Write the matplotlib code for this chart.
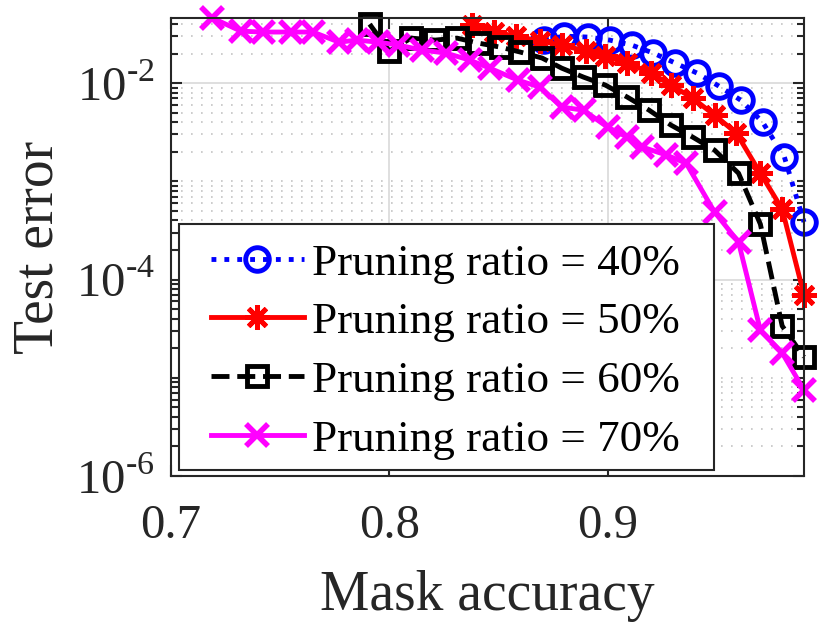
import matplotlib
matplotlib.use("Agg")
import matplotlib.pyplot as plt
from matplotlib.ticker import LogLocator, FixedLocator, NullFormatter
from matplotlib.patches import Rectangle

plt.rcParams['font.family'] = ['Liberation Serif', 'DejaVu Serif']
plt.rcParams['mathtext.fontset'] = 'custom'
plt.rcParams['mathtext.rm'] = 'Liberation Serif'

# mask accuracy (x) and test error (y)
acc_40 = [0.871, 0.880, 0.891, 0.901, 0.911, 0.921, 0.931, 0.941, 0.951, 0.961, 0.971, 0.981, 0.990]
err_40 = [0.0274, 0.0301, 0.0294, 0.0274, 0.0244, 0.0202, 0.0160, 0.01265, 0.00932, 0.00671,
          0.00401, 0.00177, 0.000385]

acc_50 = [0.838, 0.848, 0.858, 0.869, 0.879, 0.890, 0.899, 0.909, 0.920, 0.929, 0.939, 0.949,
          0.959, 0.970, 0.980, 0.990]
err_50 = [0.0389, 0.0330, 0.0301, 0.0268, 0.0244, 0.0212, 0.0188, 0.0160, 0.01265, 0.00954,
          0.00703, 0.00472, 0.00310, 0.00121, 0.000522, 6.95e-5]

acc_60 = [0.791, 0.800, 0.810, 0.821, 0.831, 0.841, 0.851, 0.860, 0.870, 0.879, 0.889, 0.899,
          0.909, 0.919, 0.929, 0.939, 0.949, 0.960, 0.970, 0.980, 0.990]
err_60 = [0.0398, 0.0212, 0.0287, 0.0274, 0.0287, 0.0255, 0.0232, 0.0207, 0.0180, 0.0142,
          0.0115, 0.00954, 0.00721, 0.00531, 0.00374, 0.00282, 0.00208, 0.00121, 0.000367,
          3.37e-5, 1.63e-5]

acc_70 = [0.719, 0.732, 0.742, 0.755, 0.765, 0.777, 0.785, 0.795, 0.804, 0.815, 0.826, 0.837,
          0.846, 0.859, 0.869, 0.879, 0.889, 0.900, 0.909, 0.916, 0.927, 0.936, 0.949, 0.960,
          0.970, 0.980, 0.990]
err_70 = [0.046, 0.0338, 0.0331, 0.0331, 0.0331, 0.0261, 0.0274, 0.0261, 0.0244, 0.0217,
          0.0202, 0.0171, 0.0142, 0.0107, 0.0091, 0.0057, 0.0053, 0.00356, 0.00282, 0.00223,
          0.00185, 0.00153, 4.87e-4, 2.41e-4, 3.06e-5, 1.79e-5, 7.5e-6]

labels = ["Pruning ratio = 40%", "Pruning ratio = 50%",
          "Pruning ratio = 60%", "Pruning ratio = 70%"]

W, H = 830, 624
fig = plt.figure(figsize=(W / 100, H / 100), dpi=100)
ax = fig.add_axes([171 / W, 1 - 476 / H, (804 - 171) / W, (476 - 18) / H])

lw = 3.5
ax.plot(acc_40, err_40, ':o', color='blue', lw=lw, ms=17, mew=3.5, mfc='none',
        clip_on=False, label=labels[0])
ax.plot(acc_50, err_50, '-', marker=(8, 2, 0), color='red', lw=lw, ms=18, mew=3.5,
        clip_on=False, label=labels[1])
ax.plot(acc_60, err_60, '--s', color='black', lw=lw, ms=14, mew=3.5, mfc='none',
        clip_on=False, label=labels[2])
ax.plot(acc_70, err_70, '-x', color='magenta', lw=lw, ms=16, mew=4,
        clip_on=False, label=labels[3])

ax.set_yscale('log')
ax.set_xlim(0.7, 0.99)
ax.set_ylim(1e-6, 0.046)

ax.xaxis.set_major_locator(FixedLocator([0.7, 0.8, 0.9]))
ax.set_xticklabels(["0.7", "0.8", "0.9"])
ax.yaxis.set_major_locator(FixedLocator([1e-6, 1e-4, 1e-2]))
ax.set_yticklabels([r"10$^{\text{-6}}$", r"10$^{\text{-4}}$", r"10$^{\text{-2}}$"])
ax.yaxis.set_minor_locator(LogLocator(base=10, subs=range(1, 10), numticks=50))
ax.yaxis.set_minor_formatter(NullFormatter())

ax.grid(True, which='major', color='#d9d9d9', lw=1.2, ls='-')
ax.grid(True, which='minor', axis='y', color='#c4c4c4', lw=1.2, ls=(0, (1, 5)))
ax.set_axisbelow(True)

ax.tick_params(which='both', direction='in', top=True, right=True, colors='#262626',
               labelcolor='#262626', labelsize=35, width=1.5)
ax.tick_params(which='major', length=8)
ax.tick_params(which='minor', length=5)
ax.tick_params(axis='x', which='major', pad=20)
ax.tick_params(axis='y', which='major', pad=12)
for s in ax.spines.values():
    s.set_color('#262626')
    s.set_linewidth(1.5)

ax.set_xlabel("Mask accuracy", fontsize=40, color='#262626', labelpad=16)
ax.set_ylabel("Test error", fontsize=40, color='#262626', labelpad=8)

# legend box (MATLAB style: wider side padding than matplotlib gives)
box = Rectangle((179 / W, 1 - 470 / H), (714 - 179) / W, (470 - 224) / H,
                transform=fig.transFigure, facecolor='white', edgecolor='#262626',
                lw=1.5, zorder=4.9, clip_on=False)
ax.add_artist(box)
ax.legend(loc='upper left', bbox_to_anchor=(211 / W, 1 - 243 / H),
          bbox_transform=fig.transFigure, borderaxespad=0, borderpad=0, fontsize=32.5,
          frameon=False, handlelength=2.05, handletextpad=0.18, labelspacing=0.4)

fig.savefig("out.png", dpi=100)
